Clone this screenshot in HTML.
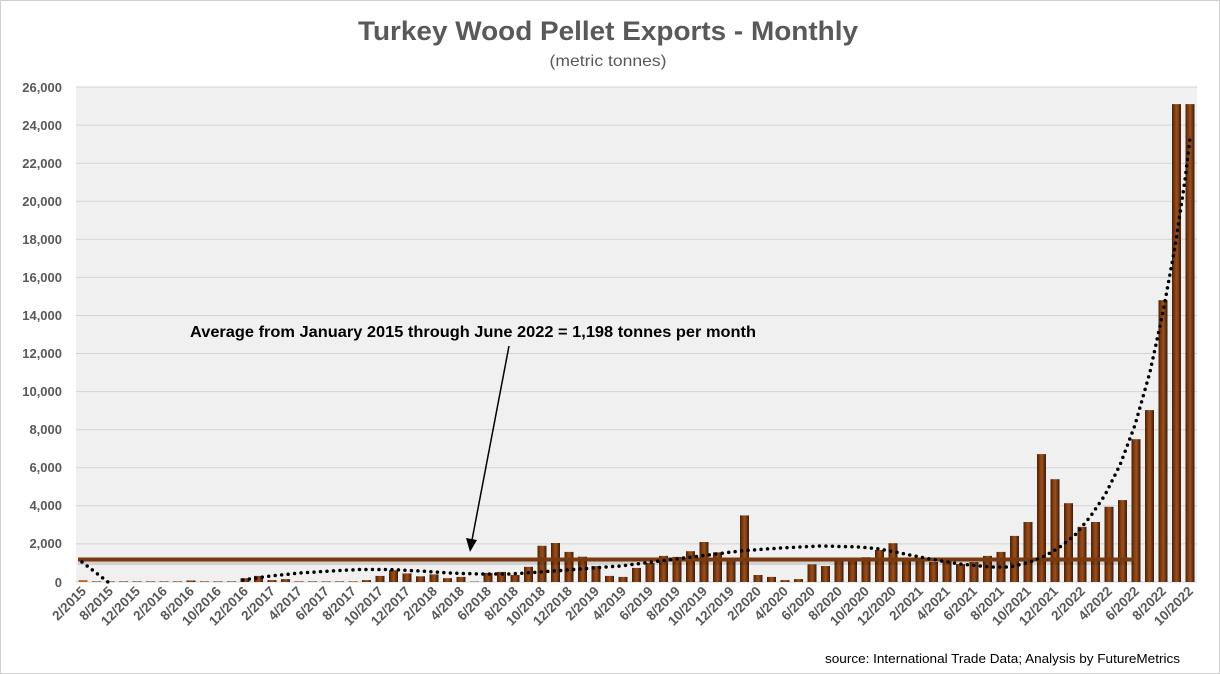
<!DOCTYPE html>
<html><head><meta charset="utf-8"><style>
html,body{margin:0;padding:0;background:#fff}
svg{display:block;font-family:"Liberation Sans",Arial,sans-serif}
</style></head><body>
<svg width="1220" height="674" viewBox="0 0 1220 674" xmlns="http://www.w3.org/2000/svg">
<defs>
<linearGradient id="bg" x1="0" x2="1" y1="0" y2="0">
<stop offset="0" stop-color="#4a2006"/><stop offset="0.35" stop-color="#8a4214"/><stop offset="0.55" stop-color="#9a5020"/><stop offset="1" stop-color="#3e1a04"/>
</linearGradient>
</defs>
<rect x="0.5" y="0.5" width="1219" height="673" fill="#fff" stroke="#d0d0d0"/>
<text x="608" y="40" text-anchor="middle" font-size="27" font-weight="bold" fill="#595959" textLength="500" lengthAdjust="spacingAndGlyphs">Turkey Wood Pellet Exports - Monthly</text>
<text x="608" y="66" text-anchor="middle" font-size="16" fill="#595959" textLength="117" lengthAdjust="spacingAndGlyphs">(metric tonnes)</text>
<rect x="76" y="87" width="1121" height="495" fill="#f0f0f0"/>
<g stroke="#d4d4d4" stroke-width="1">
<line x1="76" x2="1197" y1="87" y2="87"/><line x1="76" x2="1197" y1="125.1" y2="125.1"/><line x1="76" x2="1197" y1="163.2" y2="163.2"/><line x1="76" x2="1197" y1="201.2" y2="201.2"/><line x1="76" x2="1197" y1="239.3" y2="239.3"/><line x1="76" x2="1197" y1="277.4" y2="277.4"/><line x1="76" x2="1197" y1="315.5" y2="315.5"/><line x1="76" x2="1197" y1="353.5" y2="353.5"/><line x1="76" x2="1197" y1="391.6" y2="391.6"/><line x1="76" x2="1197" y1="429.7" y2="429.7"/><line x1="76" x2="1197" y1="467.8" y2="467.8"/><line x1="76" x2="1197" y1="505.8" y2="505.8"/><line x1="76" x2="1197" y1="543.9" y2="543.9"/><line x1="76" x2="1197" y1="582" y2="582"/>
</g>
<g font-size="13" font-weight="bold" fill="#595959" text-anchor="end">
<text x="62" y="92">26,000</text><text x="62" y="130">24,000</text><text x="62" y="168">22,000</text><text x="62" y="206">20,000</text><text x="62" y="244">18,000</text><text x="62" y="282">16,000</text><text x="62" y="320">14,000</text><text x="62" y="358">12,000</text><text x="62" y="396">10,000</text><text x="62" y="434">8,000</text><text x="62" y="472">6,000</text><text x="62" y="510">4,000</text><text x="62" y="548">2,000</text><text x="62" y="587">0</text>
</g>
<g transform="translate(0,582) scale(1,-1)" fill="url(#bg)">
<rect x="78.5" y="0" width="9" height="1.9" fill="#c06a30"/>
<rect x="92" y="0" width="9" height="0.6"/><rect x="105.5" y="0" width="9" height="0.6"/><rect x="119" y="0" width="9" height="0.6"/><rect x="132.5" y="0" width="9" height="0.6"/><rect x="146" y="0" width="9" height="0.6"/><rect x="159.5" y="0" width="9" height="0.6"/><rect x="173" y="0" width="9" height="0.6"/>
<rect x="186.5" y="0" width="9" height="1.5"/><rect x="200" y="0" width="9" height="0.6"/><rect x="213.5" y="0" width="9" height="0.6"/><rect x="227" y="0" width="9" height="0.6"/>
<rect x="240.5" y="0" width="9" height="3.8"/><rect x="254" y="0" width="9" height="6.1"/><rect x="267.5" y="0" width="9" height="1.9"/><rect x="281" y="0" width="9" height="2.9"/>
<rect x="294.5" y="0" width="9" height="0.6"/><rect x="308" y="0" width="9" height="0.6"/><rect x="321.5" y="0" width="9" height="0.6"/><rect x="335" y="0" width="9" height="0.6"/><rect x="348.5" y="0" width="9" height="0.6"/>
<rect x="362" y="0" width="9" height="1.9"/><rect x="375.5" y="0" width="9" height="6.1"/><rect x="389" y="0" width="9" height="11.8"/><rect x="402.5" y="0" width="9" height="8.6"/><rect x="416" y="0" width="9" height="5.7"/><rect x="429.5" y="0" width="9" height="7.6"/><rect x="443" y="0" width="9" height="3.8"/><rect x="456.5" y="0" width="9" height="5.1"/><rect x="470" y="0" width="9" height="0.4"/>
<rect x="483.5" y="0" width="9" height="9.1"/><rect x="497" y="0" width="9" height="10.1"/><rect x="510.5" y="0" width="9" height="7.0"/><rect x="524" y="0" width="9" height="15.2"/><rect x="537.5" y="0" width="9" height="36.2"/><rect x="551" y="0" width="9" height="39.0"/><rect x="564.5" y="0" width="9" height="30.1"/><rect x="578" y="0" width="9" height="25.3"/><rect x="591.5" y="0" width="9" height="16.0"/><rect x="605" y="0" width="9" height="6.1"/>
<rect x="618.5" y="0" width="9" height="5.1"/><rect x="632" y="0" width="9" height="14.1"/><rect x="645.5" y="0" width="9" height="19.0"/><rect x="659" y="0" width="9" height="26.1"/><rect x="672.5" y="0" width="9" height="25.1"/><rect x="686" y="0" width="9" height="30.8"/><rect x="699.5" y="0" width="9" height="40.0"/><rect x="713" y="0" width="9" height="29.7"/><rect x="726.5" y="0" width="9" height="24.2"/><rect x="740" y="0" width="9" height="66.6"/>
<rect x="753.5" y="0" width="9" height="7.0"/><rect x="767" y="0" width="9" height="5.1"/><rect x="780.5" y="0" width="9" height="1.9"/><rect x="794" y="0" width="9" height="2.9"/><rect x="807.5" y="0" width="9" height="17.7"/><rect x="821" y="0" width="9" height="16.0"/><rect x="834.5" y="0" width="9" height="23.8"/><rect x="848" y="0" width="9" height="23.8"/><rect x="861.5" y="0" width="9" height="24.8"/><rect x="875" y="0" width="9" height="32.0"/>
<rect x="888.5" y="0" width="9" height="38.8"/><rect x="902" y="0" width="9" height="24.2"/><rect x="915.5" y="0" width="9" height="22.8"/><rect x="929" y="0" width="9" height="20.0"/><rect x="942.5" y="0" width="9" height="22.1"/><rect x="956" y="0" width="9" height="17.9"/><rect x="969.5" y="0" width="9" height="20.0"/><rect x="983" y="0" width="9" height="26.1"/><rect x="996.5" y="0" width="9" height="30.1"/><rect x="1010" y="0" width="9" height="46.1"/>
<rect x="1023.5" y="0" width="9" height="60.0"/><rect x="1037" y="0" width="9" height="127.9"/><rect x="1050.5" y="0" width="9" height="102.8"/><rect x="1064" y="0" width="9" height="78.8"/><rect x="1077.5" y="0" width="9" height="55.2"/><rect x="1091" y="0" width="9" height="60.0"/><rect x="1104.5" y="0" width="9" height="75.2"/><rect x="1118" y="0" width="9" height="81.9"/><rect x="1131.5" y="0" width="9" height="142.8"/><rect x="1145" y="0" width="9" height="171.9"/>
<rect x="1158.5" y="0" width="9" height="281.8"/><rect x="1172" y="0" width="9" height="477.9"/><rect x="1185.5" y="0" width="9" height="477.9"/>
</g>
<line x1="78" y1="563" x2="1134" y2="563" stroke="#000" stroke-opacity="0.12" stroke-width="4"/>
<line x1="78" y1="559.5" x2="1134" y2="559.5" stroke="#7a3a10" stroke-width="4"/>
<polyline fill="none" stroke="#000" stroke-width="3.5" stroke-linecap="round" stroke-dasharray="0 6.5" points="82,562 95,572 108,582"/>
<polyline fill="none" stroke="#000" stroke-width="3.5" stroke-linecap="round" stroke-dasharray="0 6.5" points="243,580 270,576 300,573 330,571 360,569.5 390,569.5 420,571 450,573 480,574 510,574 540,572 580,569 620,566 660,561 700,556 740,551 780,548 820,546 860,547 880,549 900,553 930,559 960,564 990,567 1010,567 1030,562 1045,556 1060,547 1075,535 1090,517 1105,495 1120,465 1135,425 1150,372 1163,312 1175,247 1185,180 1190,138"/>
<text x="190" y="337" font-size="16" font-weight="bold" fill="#000" textLength="566" lengthAdjust="spacingAndGlyphs">Average from January 2015 through June 2022 = 1,198 tonnes per month</text>
<line x1="509" y1="346" x2="472" y2="540" stroke="#000" stroke-width="1.5"/>
<polygon points="470,552 466,538 477,540" fill="#000"/>
<g font-size="13.5" font-weight="bold" fill="#595959" text-anchor="end">
<text transform="translate(87,592) rotate(-45)">2/2015</text>
<text transform="translate(114,592) rotate(-45)">8/2015</text>
<text transform="translate(141,592) rotate(-45)">12/2015</text>
<text transform="translate(168,592) rotate(-45)">2/2016</text>
<text transform="translate(195,592) rotate(-45)">8/2016</text>
<text transform="translate(222,592) rotate(-45)">10/2016</text>
<text transform="translate(249,592) rotate(-45)">12/2016</text>
<text transform="translate(276,592) rotate(-45)">2/2017</text>
<text transform="translate(303,592) rotate(-45)">4/2017</text>
<text transform="translate(330,592) rotate(-45)">6/2017</text>
<text transform="translate(357,592) rotate(-45)">8/2017</text>
<text transform="translate(384,592) rotate(-45)">10/2017</text>
<text transform="translate(411,592) rotate(-45)">12/2017</text>
<text transform="translate(438,592) rotate(-45)">2/2018</text>
<text transform="translate(465,592) rotate(-45)">4/2018</text>
<text transform="translate(492,592) rotate(-45)">6/2018</text>
<text transform="translate(519,592) rotate(-45)">8/2018</text>
<text transform="translate(546,592) rotate(-45)">10/2018</text>
<text transform="translate(573,592) rotate(-45)">12/2018</text>
<text transform="translate(600,592) rotate(-45)">2/2019</text>
<text transform="translate(627,592) rotate(-45)">4/2019</text>
<text transform="translate(654,592) rotate(-45)">6/2019</text>
<text transform="translate(681,592) rotate(-45)">8/2019</text>
<text transform="translate(708,592) rotate(-45)">10/2019</text>
<text transform="translate(735,592) rotate(-45)">12/2019</text>
<text transform="translate(762,592) rotate(-45)">2/2020</text>
<text transform="translate(789,592) rotate(-45)">4/2020</text>
<text transform="translate(816,592) rotate(-45)">6/2020</text>
<text transform="translate(843,592) rotate(-45)">8/2020</text>
<text transform="translate(870,592) rotate(-45)">10/2020</text>
<text transform="translate(897,592) rotate(-45)">12/2020</text>
<text transform="translate(924,592) rotate(-45)">2/2021</text>
<text transform="translate(951,592) rotate(-45)">4/2021</text>
<text transform="translate(978,592) rotate(-45)">6/2021</text>
<text transform="translate(1005,592) rotate(-45)">8/2021</text>
<text transform="translate(1032,592) rotate(-45)">10/2021</text>
<text transform="translate(1059,592) rotate(-45)">12/2021</text>
<text transform="translate(1086,592) rotate(-45)">2/2022</text>
<text transform="translate(1113,592) rotate(-45)">4/2022</text>
<text transform="translate(1140,592) rotate(-45)">6/2022</text>
<text transform="translate(1167,592) rotate(-45)">8/2022</text>
<text transform="translate(1194,592) rotate(-45)">10/2022</text>
</g>
<text x="1180" y="663" text-anchor="end" font-size="13" fill="#000" textLength="355" lengthAdjust="spacingAndGlyphs">source: International Trade Data; Analysis by FutureMetrics</text>
</svg>
</body></html>
